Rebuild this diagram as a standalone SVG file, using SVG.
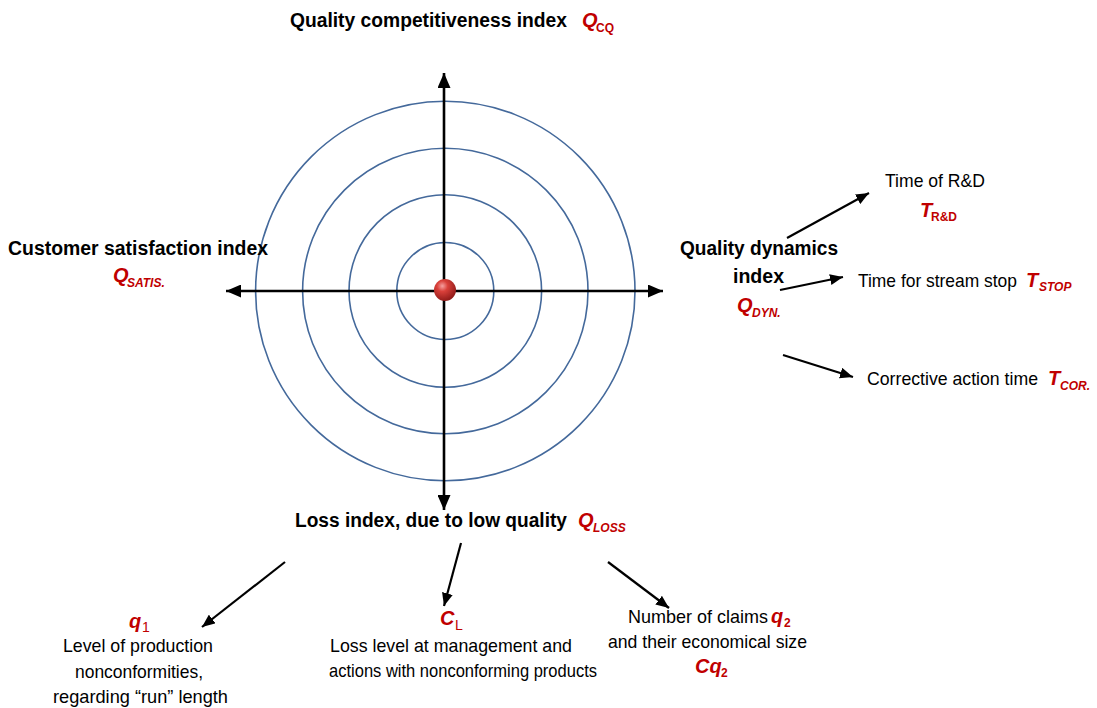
<svg xmlns="http://www.w3.org/2000/svg" width="1097" height="708" viewBox="0 0 1097 708">
  <style>
    .ring { fill: none; stroke: #44699b; stroke-width: 1.6; }
    .axis { stroke: #000; stroke-width: 2.6; fill: none; }
    .link { stroke: #000; stroke-width: 2.2; fill: none; }
    .head { font-family: "Liberation Sans", Arial, sans-serif; font-weight: bold; font-size: 20px; fill: #000; }
    .body { font-family: "Liberation Sans", Arial, sans-serif; font-size: 18.5px; fill: #000; }
    .sym { font-family: "Liberation Sans", Arial, sans-serif; font-weight: bold; font-style: italic; font-size: 20px; fill: #c00000; }
    .sub { font-family: "Liberation Sans", Arial, sans-serif; font-weight: bold; font-size: 12px; fill: #c00000; }
    .subi { font-style: italic; }
    .subn { font-weight: normal; font-size: 14px; }
  </style>
  <defs>
    <marker id="axisHead" markerUnits="userSpaceOnUse" markerWidth="15" markerHeight="13" refX="15" refY="6.5" orient="auto">
      <path d="M0,0 L15,6.5 L0,13 z" fill="#000"/>
    </marker>
    <marker id="linkHead" markerUnits="userSpaceOnUse" markerWidth="13" markerHeight="11" refX="13" refY="5.5" orient="auto">
      <path d="M0,0 L13,5.5 L0,11 z" fill="#000"/>
    </marker>
    <radialGradient id="ballFill" cx="0.38" cy="0.32" r="0.7">
      <stop offset="0" stop-color="#f6a0a0"/>
      <stop offset="0.35" stop-color="#d9403a"/>
      <stop offset="1" stop-color="#8e1a18"/>
    </radialGradient>
  </defs>

  <!-- concentric rings -->
  <g id="rings">
    <circle class="ring" cx="445.3" cy="291" r="48.5"/>
    <circle class="ring" cx="445.3" cy="291" r="96.3"/>
    <circle class="ring" cx="445.3" cy="291" r="142.7"/>
    <circle class="ring" cx="445.3" cy="291" r="189.7"/>
  </g>

  <!-- axes and links -->
  <g id="connectors">
    <line class="axis" x1="444" y1="291" x2="444" y2="73" marker-end="url(#axisHead)"/>
    <line class="axis" x1="444" y1="291" x2="444" y2="510" marker-end="url(#axisHead)"/>
    <line class="axis" x1="445" y1="291" x2="226" y2="291" marker-end="url(#axisHead)"/>
    <line class="axis" x1="445" y1="291" x2="663" y2="291" marker-end="url(#axisHead)"/>
    <line class="link" x1="787" y1="238" x2="869" y2="193" marker-end="url(#linkHead)"/>
    <line class="link" x1="780" y1="290" x2="843" y2="277" marker-end="url(#linkHead)"/>
    <line class="link" x1="783" y1="355" x2="853" y2="377" marker-end="url(#linkHead)"/>
    <line class="link" x1="285" y1="562" x2="202" y2="627" marker-end="url(#linkHead)"/>
    <line class="link" x1="461" y1="543" x2="444" y2="606" marker-end="url(#linkHead)"/>
    <line class="link" x1="608" y1="562" x2="669" y2="608" marker-end="url(#linkHead)"/>
  </g>

  <!-- centre point -->
  <g id="centre">
    <circle cx="445" cy="290" r="11" fill="url(#ballFill)"/>
  </g>

  <g id="quality-competitiveness">
    <text class="head" x="290" y="27" textLength="277" lengthAdjust="spacingAndGlyphs">Quality competitiveness  index</text>
    <text class="sym" x="582" y="27">Q</text>
    <text class="sub" x="596" y="32">CQ</text>
  </g>

  <g id="customer-satisfaction">
    <text class="head" x="8" y="255" textLength="260" lengthAdjust="spacingAndGlyphs">Customer satisfaction index</text>
    <text class="sym" x="113" y="282">Q</text>
    <text class="sub subi" x="127" y="287">SATIS.</text>
  </g>

  <g id="quality-dynamics">
    <text class="head" x="680" y="255" textLength="158" lengthAdjust="spacingAndGlyphs">Quality dynamics</text>
    <text class="head" x="733" y="283" textLength="51" lengthAdjust="spacingAndGlyphs">index</text>
    <text class="sym" x="737" y="312">Q</text>
    <text class="sub subi" x="752" y="317">DYN.</text>
  </g>

  <g id="time-rd">
    <text class="body" x="885" y="187" textLength="100" lengthAdjust="spacingAndGlyphs">Time of R&amp;D</text>
    <text class="sym" x="920" y="217">T</text>
    <text class="sub" x="931" y="221" font-size="11">R&amp;D</text>
  </g>

  <g id="time-stop">
    <text class="body" x="858" y="287" textLength="159" lengthAdjust="spacingAndGlyphs">Time for stream stop</text>
    <text class="sym" x="1026" y="287">T</text>
    <text class="sub subi" x="1039" y="291">STOP</text>
  </g>

  <g id="time-corrective">
    <text class="body" x="867" y="385" textLength="171" lengthAdjust="spacingAndGlyphs">Corrective action time</text>
    <text class="sym" x="1048" y="385">T</text>
    <text class="sub subi" x="1060" y="390">COR.</text>
  </g>

  <g id="loss-index">
    <text class="head" x="295" y="527" textLength="272" lengthAdjust="spacingAndGlyphs">Loss index, due to low quality</text>
    <text class="sym" x="578" y="527">Q</text>
    <text class="sub subi" x="593" y="532">LOSS</text>
  </g>

  <g id="nonconformities">
    <text class="sym" x="129" y="628">q</text>
    <text class="sub subn" x="142" y="632">1</text>
    <text class="body" x="63" y="652" textLength="150" lengthAdjust="spacingAndGlyphs">Level of production</text>
    <text class="body" x="75" y="678" textLength="128" lengthAdjust="spacingAndGlyphs">nonconformities,</text>
    <text class="body" x="53" y="703" textLength="175" lengthAdjust="spacingAndGlyphs">regarding “run” length</text>
  </g>

  <g id="loss-level">
    <text class="sym" x="440" y="625">C</text>
    <text class="sub subn" x="455" y="630">L</text>
    <text class="body" x="330" y="652" textLength="242" lengthAdjust="spacingAndGlyphs">Loss level at management and</text>
    <text class="body" x="329" y="677" textLength="268" lengthAdjust="spacingAndGlyphs">actions with nonconforming products</text>
  </g>

  <g id="claims">
    <text class="body" x="628" y="623" textLength="140" lengthAdjust="spacingAndGlyphs">Number of claims</text>
    <text class="sym" x="771" y="623">q</text>
    <text class="sub" x="784" y="627" font-size="13">2</text>
    <text class="body" x="608" y="648" textLength="199" lengthAdjust="spacingAndGlyphs">and their economical size</text>
    <text class="sym" x="695" y="673" font-size="19">Cq</text>
    <text class="sub" x="721" y="677" font-size="13">2</text>
  </g>
</svg>
